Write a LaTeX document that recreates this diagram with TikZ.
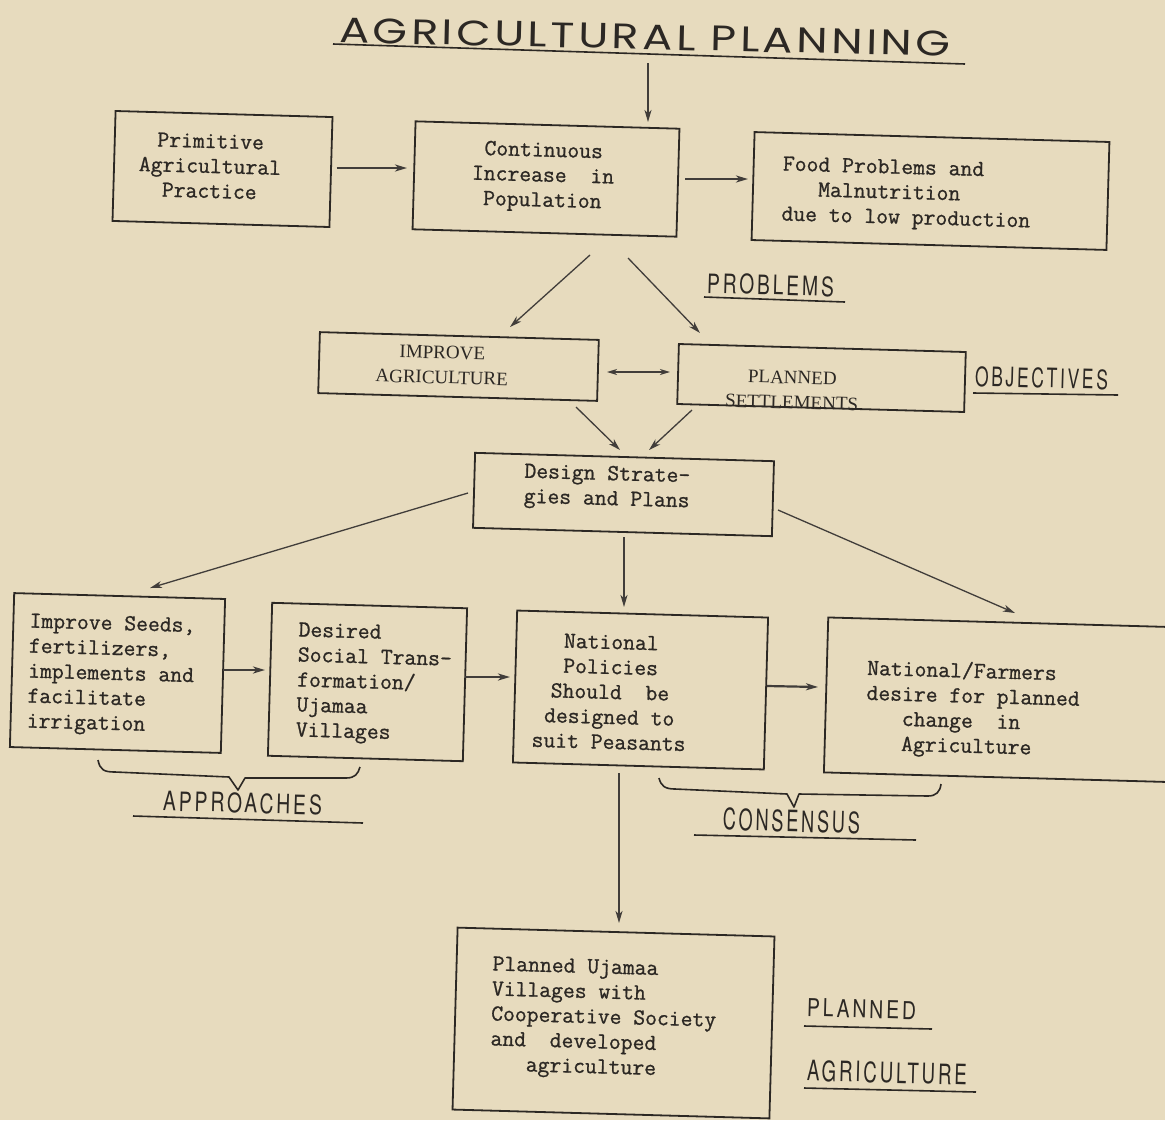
\documentclass[tikz,border=0pt]{standalone}
\usepackage{fontspec}
\usepackage{graphicx}
\usetikzlibrary{calc,arrows.meta}
\newfontfamily\twfont[FakeBold=0.9]{Latin Modern Mono}
\newfontfamily\stencilfont[LetterSpace=15]{TeX Gyre Heros}
\newfontfamily\titlefont[LetterSpace=8]{Poppins}
\newfontfamily\capfont{Liberation Serif}
\definecolor{paper}{RGB}{231,219,190}
\definecolor{ink}{RGB}{44,40,36}
\tikzset{
  box/.style={draw=ink, line width=1.8pt, rectangle, inner sep=0pt, rotate=-1.6},
  tw/.style={font=\twfont\fontsize{23}{25}\selectfont, text=ink, inner sep=0pt, rotate=-1.6},
  capt/.style={font=\capfont\fontsize{19}{25}\selectfont, text=ink, inner sep=0pt, rotate=-1.6},
  arr/.style={draw=ink!90, line width=1.3pt, -{Stealth[length=12pt,width=7pt,inset=3.5pt]}},
  harr/.style={arr, line width=2.2pt},
  darr/.style={draw=ink!90, line width=1.3pt, {Stealth[length=10pt,width=6pt,inset=3pt]}-{Stealth[length=10pt,width=6pt,inset=3pt]}},
  lab/.style={text=ink, inner sep=0pt, rotate=-1.5},
  uline/.style={draw=ink, line width=1.6pt},
  brace/.style={draw=ink, line width=1.6pt, line join=round},
}
\begin{document}
\begin{tikzpicture}[x=1pt,y=-1pt]
\useasboundingbox (0,0) rectangle (1165,1120);
\fill[paper] (0,0) rectangle (1165,1120);
\clip (0,0) rectangle (1165,1120);

% title
\node[lab, rotate=0.2] (title) at (645,37) {\resizebox{611pt}{25pt}{\titlefont AGRICULTURAL PLANNING}};
\draw[uline] (333,44) -- (965,64);
\coordinate (tt) at (648,63);

% boxes
\node[box, minimum width=217pt, minimum height=110pt] (b1) at (222.5,169) {};
\node[box, minimum width=264pt, minimum height=108pt] (b2) at (546,179) {};
\node[box, minimum width=355pt, minimum height=108pt] (b3) at (930.5,191) {};
\node[box, minimum width=279pt, minimum height=61pt] (bImp) at (458.5,366.5) {};
\node[box, minimum width=287pt, minimum height=60pt] (bSet) at (821.5,378) {};
\node[box, minimum width=299pt, minimum height=75pt] (bDes) at (623.5,494.5) {};
\node[box, minimum width=211pt, minimum height=154pt] (bSeed) at (117.5,673) {};
\node[box, minimum width=195pt, minimum height=153pt] (bDesired) at (367.5,682) {};
\node[box, minimum width=251pt, minimum height=152pt] (bNat) at (640.5,690) {};
\node[box, minimum width=364pt, minimum height=155pt] (bNF) at (1008,700) {};
\node[box, minimum width=317pt, minimum height=182pt] (bUj) at (613.5,1023) {};

% texts
\node[tw, align=center] (t1) at (210,166) {Primitive\\Agricultural\\Practice};
\node[tw, align=center] (t2) at (543,177) {Continuous\\Increase\ \ in\\Population};
\node[tw, align=left, anchor=west] (t3) at (782,191) {Food Problems and\\\hspace*{36pt}Malnutrition\\due to low production};
\node[capt, align=center] (tImp) at (442,365) {IMPROVE\\AGRICULTURE};
\node[capt, align=center] (tSet) at (792,390) {PLANNED\\SETTLEMENTS};
\node[tw, align=center] (tDes) at (607,488) {Design Strate-\\gies and Plans};
\node[tw, align=left, anchor=west] (tSeed) at (28,673) {Improve Seeds,\\fertilizers,\\implements and\\facilitate\\irrigation};
\node[tw, align=left, anchor=west] (tDesired) at (297,682) {Desired\\Social Trans-\\formation/\\Ujamaa\\Villages};
\node[tw, align=center] (tNat) at (610,692) {National\\Policies\\Should\ \ be\\designed to\\suit Peasants};
\node[tw, align=left, anchor=west] (tNF) at (866,707) {National/Farmers\\desire for planned\\\hspace*{36pt}change\ \ in\\\hspace*{36pt}Agriculture};
\node[tw, align=left, anchor=west] (tUj) at (491,1016) {Planned Ujamaa\\Villages with\\Cooperative Society\\and\ \ developed\\\hspace*{36pt}agriculture};

% labels
\node[lab] (lProb) at (770.5,285) {\resizebox{127pt}{20pt}{\stencilfont PROBLEMS}};
\draw[uline] (704,297) -- (845,302);
\node[lab] (lObj) at (1041.5,378) {\resizebox{133pt}{20pt}{\stencilfont OBJECTIVES}};
\draw[uline] (973,393) -- (1118,395);
\node[lab] (lApp) at (242.5,803) {\resizebox{159pt}{20pt}{\stencilfont APPROACHES}};
\draw[uline] (133,816) -- (363,823);
\node[lab] (lCon) at (791.5,821) {\resizebox{137pt}{22pt}{\stencilfont CONSENSUS}};
\draw[uline] (694,835) -- (916,840);
\node[lab] (lPl) at (861.5,1009) {\resizebox{109pt}{18pt}{\stencilfont PLANNED}};
\draw[uline] (804,1026) -- (932,1029);
\node[lab] (lAg) at (887,1072.5) {\resizebox{160pt}{21pt}{\stencilfont AGRICULTURE}};
\draw[uline] (804,1088) -- (976,1092);

% braces
\draw[brace] (98,760) .. controls (100,770) and (104,772) .. (115,772) -- (229,777) -- (238,790) -- (245,778) -- (346,778) .. controls (355,778) and (358,774) .. (360,767);
\draw[brace] (659,778) .. controls (661,786) and (665,789) .. (675,789) -- (787,794) -- (794,807) -- (799,794) -- (928,796) .. controls (936,796) and (940,792) .. (941,784);

% connectors
\draw[arr] (tt) -- ($(b2.center)+(102,-57)$);
\draw[harr] ($(b1.center)+(114,-1)$) -- ($(b2.center)+(-139,-11)$);
\draw[harr] ($(b2.center)+(139,0)$) -- ($(b3.center)+(-182.5,-12)$);
\draw[arr] ($(b2.center)+(44,76)$) -- ($(bImp.center)+(51.5,-39.5)$);
\draw[arr] ($(b2.center)+(82,79)$) -- ($(bSet.center)+(-121.5,-45)$);
\draw[darr] ($(bImp.center)+(148.5,5.5)$) -- ($(bSet.center)+(-151.5,-6)$);
\draw[arr] ($(bImp.center)+(117.5,40.5)$) -- ($(bDes.center)+(-3.5,-44.5)$);
\draw[arr] ($(bSet.center)+(-129.5,32)$) -- ($(bDes.center)+(25.5,-44.5)$);
\draw[arr] ($(bDes.center)+(-155.5,-1.5)$) -- ($(bSeed.center)+(32.5,-85)$);
\draw[arr] ($(bDes.center)+(0.5,42.5)$) -- ($(bNat.center)+(-16.5,-83)$);
\draw[arr] ($(bDes.center)+(154.5,15.5)$) -- ($(bNF.center)+(7,-87)$);
\draw[harr] ($(bSeed.center)+(105.5,-3)$) -- ($(bDesired.center)+(-102.5,-12)$);
\draw[harr] ($(bDesired.center)+(97.5,-5)$) -- ($(bNat.center)+(-130.5,-13)$);
\draw[harr] ($(bNat.center)+(126.5,-4)$) -- ($(bNF.center)+(-190,-13)$);
\draw[arr] ($(bNat.center)+(-21.5,83)$) -- ($(bUj.center)+(5.5,-100)$);
\end{tikzpicture}
\end{document}
